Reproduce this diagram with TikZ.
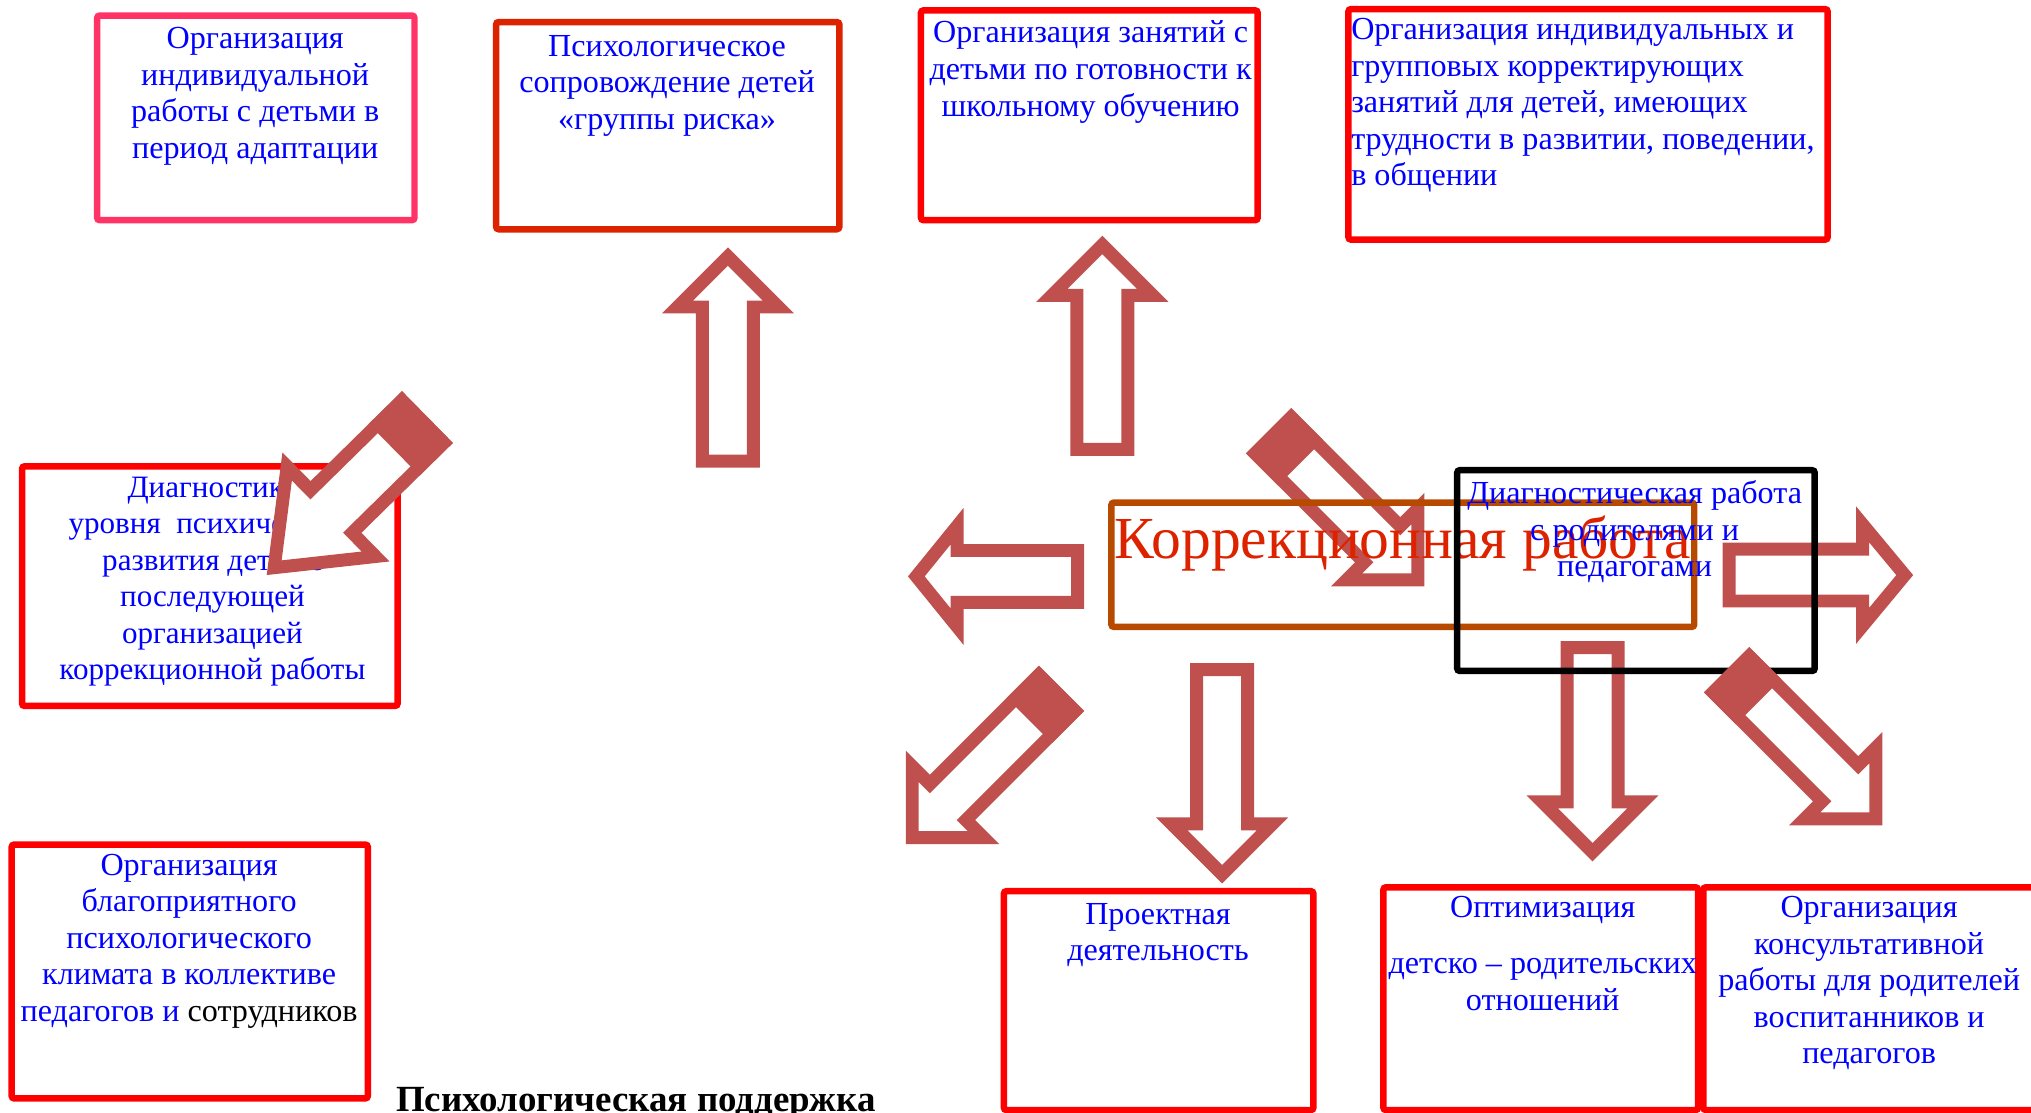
\documentclass[tikz,border=0pt]{standalone}
\usepackage{fontspec}
\setmainfont{Liberation Serif}
\definecolor{arrowc}{HTML}{C0504D}
\definecolor{pinkc}{HTML}{FF3366}
\definecolor{orredc}{HTML}{DD2200}
\definecolor{brownc}{HTML}{B84A00}
\definecolor{redc}{HTML}{FF0000}
\definecolor{bluec}{HTML}{0000FF}
\newcommand\blockarrow[8]{%
 \begin{scope}[shift={(#1,#2)},rotate=#3]
  \pgfmathsetmacro\bL{#4}\pgfmathsetmacro\bw{#5}\pgfmathsetmacro\bh{#6}\pgfmathsetmacro\bhl{#7}%
  \pgfmathsetmacro\bd{5}%
  \pgfmathsetmacro\bn{sqrt(\bh*\bh+\bhl*\bhl)}%
  \pgfmathsetmacro\bxa{\bd}%
  \pgfmathsetmacro\bya{\bw-\bd}%
  \pgfmathsetmacro\bxb{\bL-\bhl+\bd}%
  \pgfmathsetmacro\byc{\bh-\bd*(\bh+\bn)/\bhl}%
  \pgfmathsetmacro\bxt{\bL-\bd*\bn/\bh}%
  \draw[arrowline] (\bxa,\bya) -- (\bxb,\bya) -- (\bxb,\byc) -- (\bxt,0) -- (\bxb,-\byc) -- (\bxb,-\bya) -- (\bxa,-\bya) -- cycle;
  \ifdim #8pt>0pt \fill[arrowc] (0,-\bw) rectangle (#8,\bw); \fi
 \end{scope}}
\tikzset{
  arrowline/.style={draw=arrowc, line width=10pt, fill=white, line join=miter},
  boxline/.style={line width=5pt, rounded corners=2pt},
  txt/.style={anchor=north, inner sep=0pt, align=center, text=bluec,
      font=\fontsize{24.8}{28.2}\selectfont},
}
\begin{document}
\begin{tikzpicture}[x=1pt,y=-1pt]
\useasboundingbox (0,0) rectangle (1568,859);
\fill[white] (0,0) rectangle (1568,859);

% top boxes
\draw[boxline, draw=pinkc] (75,12) rectangle (320,170);
\node[txt] (tA) at (197,21) {Организация\\индивидуальной\\работы с детьми в\\период адаптации};

\draw[boxline, draw=orredc] (383,17) rectangle (648,177);
\node[txt] (tB) at (515,27) {Психологическое\\сопровождение детей\\«группы риска»};

\draw[boxline, draw=redc] (711,8) rectangle (971,170);
\node[txt] (tC) at (842,16) {Организация занятий с\\детьми по готовности к\\школьному обучению};

\draw[boxline, draw=redc] (1041,7) rectangle (1411,185);
\node[txt, anchor=north west, align=left] (tD) at (1043,14) {Организация индивидуальных и\\групповых корректирующих\\занятий для детей, имеющих\\трудности в развитии, поведении,\\в общении};

% left boxes
\draw[boxline, draw=redc] (9,652) rectangle (284,848);
\node[txt] (tF) at (146,659) {Организация\\благоприятного\\психологического\\климата в коллективе\\педагогов и {\color{black}сотрудников}};

\draw[boxline, draw=redc] (17,360) rectangle (307,545);
\node[txt, font=\fontsize{24}{28.2}\selectfont] (tE) at (164,368) {Диагностика\\уровня\ \ психического\\развития детей с\\последующей\\организацией\\коррекционной работы};

% bottom boxes
\draw[boxline, draw=redc] (775,688) rectangle (1014,857);
\node[txt] (tI) at (894,697) {Проектная\\деятельность};

\draw[boxline, draw=redc] (1068,685) rectangle (1311,857);
\node[txt] (tJ) at (1191,692) {Оптимизация\\[15pt]детско – родительских\\отношений};

\draw[boxline, draw=redc] (1315,685) rectangle (1580,857);
\node[txt] (tK) at (1443,692) {Организация\\консультативной\\работы для родителей\\воспитанников и\\педагогов};

% title
\node[anchor=base, inner sep=0pt, font=\fontsize{28.5}{32}\selectfont\bfseries] (title) at (491,858) {Психологическая поддержка};

% arrows
\blockarrow{330}{322}{224.5}{174}{28}{59}{75}{36}
\blockarrow{562}{361}{90}{170}{24.7}{51}{51}{0}
\blockarrow{851}{352}{90}{170}{24.7}{51}{51}{0}
\blockarrow{837}{445}{180}{136}{25}{53}{43}{0}
\blockarrow{1330}{444}{0}{147}{25}{53}{44}{0}
\blockarrow{943.5}{512}{-90}{170}{24.7}{51}{51}{0}
\blockarrow{1229.5}{495}{-90}{170}{24.7}{51}{51}{0}
\blockarrow{819.5}{531.5}{225}{170}{24.7}{51}{51}{35}
\blockarrow{979.4}{332.5}{-45}{170}{24.7}{51}{51}{35}

% central box
\draw[boxline, draw=brownc] (858,388) rectangle (1308,484);
\node[anchor=base, inner sep=0pt, text=orredc, font=\fontsize{46}{50}\selectfont] (tG) at (1083,431) {Коррекционная работа};

% black box
\draw[boxline, draw=black] (1125,363) rectangle (1401,518);
\node[txt] (tH) at (1262,371) {Диагностическая работа\\с родителями и\\педагогами};

\blockarrow{1333}{517}{-45}{170}{24.7}{51}{51}{35}
\end{tikzpicture}
\end{document}
